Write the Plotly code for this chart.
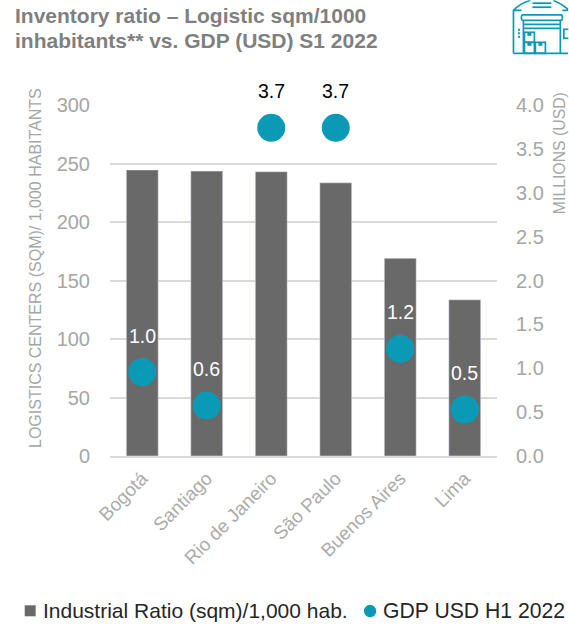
import base64
import plotly.graph_objects as go

cities = ["Bogotá", "Santiago", "Rio de Janeiro", "São Paulo", "Buenos Aires", "Lima"]
ratio = [244.5, 243.5, 243, 233.5, 169, 133.5]
gdp = [0.957, 0.575, 3.74, 3.74, 1.22, 0.53]
gdp_labels = ["1.0", "0.6", "3.7", "3.7", "1.2", "0.5"]
label_colors = ["#ffffff", "#ffffff", "#000000", "#000000", "#ffffff", "#ffffff"]
title_lines = ["Inventory ratio – Logistic sqm/1000", "inhabitants** vs. GDP (USD) S1 2022"]
legend_names = ["Industrial Ratio (sqm)/1,000 hab.", "GDP USD H1 2022"]

W, H = 569, 625
ML, MR, MT, MB = 109.5, 71.5, 104.7, 169.3
GREY_BAR = "#696969"
TEAL = "#0b9ab5"
TICK = "#a6a6a6"
FONT = "Liberation Sans"

icon_svg = f'''<svg xmlns="http://www.w3.org/2000/svg" width="60" height="60" viewBox="0 0 60 60">
<g fill="none" stroke="{TEAL}" stroke-width="1.7">
<path d="M5 53 V10 Q12 3 22 0 M45 0 Q54 4 60 9 M5 10 H13 M54 10 H60"/>
<path d="M5 53 H60"/>
<rect x="13" y="14.5" width="41" height="5.5" rx="1.5"/>
<path d="M15 20 V53 M52 20 V53 M15 24 H52 M15 28 H52"/>
<rect x="16" y="32" width="10" height="10"/><rect x="16" y="42" width="10" height="11"/><rect x="27" y="42" width="10" height="11"/>
<rect x="55.5" y="29" width="6" height="9"/>
</g>
<g fill="{TEAL}">
<rect x="24" y="2" width="19" height="1.8"/><rect x="24" y="6" width="19" height="1.8"/>
<rect x="9.5" y="28.5" width="2" height="2"/><rect x="9.5" y="32" width="2" height="2"/><rect x="9.5" y="35.5" width="2" height="2"/>
<rect x="19" y="32" width="4" height="3.5"/><rect x="19" y="42" width="4" height="3.5"/><rect x="30" y="42" width="4" height="3.5"/>
</g></svg>'''
icon_uri = "data:image/svg+xml;base64," + base64.b64encode(icon_svg.encode()).decode()

fig = go.Figure()
fig.add_trace(go.Bar(x=cities, y=ratio, marker_color=GREY_BAR, name=legend_names[0], yaxis="y"))
fig.add_trace(go.Scatter(x=cities, y=gdp, mode="markers", name=legend_names[1], yaxis="y2",
                         marker=dict(size=28, color=TEAL), cliponaxis=False))

annotations = []
for c, v, t, col in zip(cities, gdp, gdp_labels, label_colors):
    annotations.append(dict(x=c, y=v, xref="x", yref="y2", yshift=36.5, text=t, showarrow=False,
                            font=dict(family=FONT, size=19.5, color=col)))


def px(x):
    return (x - ML) / (W - ML - MR)


def py(y):
    return (H - MB - y) / (H - MT - MB)


for line, y in zip(title_lines, [15, 40]):
    annotations.append(dict(x=px(12), y=py(y), xref="paper", yref="paper", xanchor="left", yanchor="middle",
                            text=f"<b>{line}</b>", showarrow=False,
                            font=dict(family=FONT, size=21, color="#7f7f7f")))
annotations.append(dict(x=px(35), y=py(268), xref="paper", yref="paper", xanchor="center", yanchor="middle",
                        text="LOGISTICS CENTERS (SQM)/ 1,000 HABITANTS",
                        textangle=-90, showarrow=False, font=dict(family=FONT, size=16, color=TICK)))
annotations.append(dict(x=px(560), y=py(152.5), xref="paper", yref="paper", xanchor="center", yanchor="middle",
                        text="MILLIONS (USD)",
                        textangle=-90, showarrow=False, font=dict(family=FONT, size=15.8, color=TICK)))
annotations.append(dict(x=px(40), y=py(610), xref="paper", yref="paper", xanchor="left", yanchor="middle",
                        text=legend_names[0], showarrow=False, font=dict(family=FONT, size=21, color="#262626")))
annotations.append(dict(x=px(381), y=py(610), xref="paper", yref="paper", xanchor="left", yanchor="middle",
                        text=legend_names[1], showarrow=False, font=dict(family=FONT, size=21.2, color="#262626")))

shapes = [
    dict(type="rect", xref="paper", yref="paper", x0=px(24), x1=px(35), y0=py(616), y1=py(605),
         fillcolor=GREY_BAR, line_width=0),
    dict(type="circle", xref="paper", yref="paper", x0=px(364), x1=px(376.5), y0=py(617), y1=py(604.5),
         fillcolor=TEAL, line_width=0),
]

fig.update_layout(
    width=W, height=H, autosize=False,
    margin=dict(l=ML, r=MR, t=MT, b=MB, pad=0),
    paper_bgcolor="white", plot_bgcolor="white",
    showlegend=False, bargap=0.505,
    font=dict(family=FONT),
    xaxis=dict(range=[-0.5, 5.5], tickangle=-45, tickfont=dict(size=18.8, color="#ababab"), showgrid=False, ticks="",
               automargin=False, ticklabelstandoff=2,
               showline=True, linecolor="#d9d9d9", linewidth=2, categoryorder="array", categoryarray=cities),
    yaxis=dict(range=[0, 300], dtick=50, tickfont=dict(size=20, color=TICK), gridcolor="#d9d9d9", gridwidth=1.5,
               zeroline=False, ticks="", ticklabelstandoff=19, automargin=False),
    yaxis2=dict(range=[0, 4], dtick=0.5, tickformat=".1f", overlaying="y", side="right", showgrid=False,
                tickfont=dict(size=20, color=TICK), zeroline=False, ticks="", ticklabelstandoff=18, automargin=False),
    annotations=annotations,
    shapes=shapes,
    images=[dict(source=icon_uri, xref="paper", yref="paper", x=px(509), y=py(0), sizex=60 / (W - ML - MR),
                 sizey=60 / (H - MT - MB), xanchor="left", yanchor="top", sizing="stretch", layer="above")],
)
fig.write_html("out.html", config=dict(displayModeBar=False),
               post_script="document.body.style.margin='0';document.documentElement.style.overflow='hidden';")
